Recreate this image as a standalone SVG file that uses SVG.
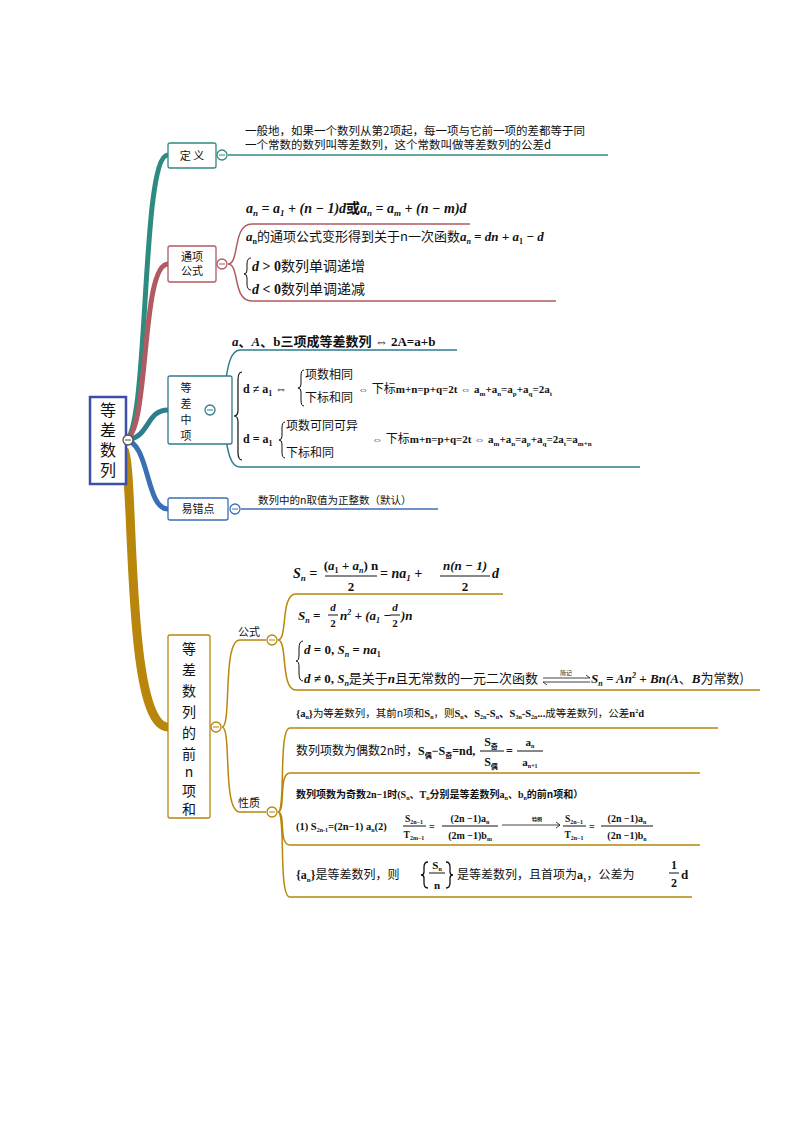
<svg xmlns="http://www.w3.org/2000/svg" width="794" height="1123" viewBox="0 0 794 1123">
<style>
.cn{font-family:"Noto Sans CJK SC","Noto Sans",sans-serif;fill:#111}
.m{font-family:"Liberation Serif","Noto Sans CJK SC",serif;font-weight:bold;fill:#111}
.i{font-style:italic}
.box{fill:#fff;stroke-width:1.3}
.c{fill:#fff;stroke-width:1.3}
.ln{fill:none;stroke-width:1.5}
</style>
<rect width="794" height="1123" fill="#fff"/>
<g id="connectors" fill="none">
<path d="M124 440 C150 440,140 155,168 155" stroke="#2e8b7f" stroke-width="5"/>
<path d="M124 440 C150 440,140 264,168 264" stroke="#b05a62" stroke-width="5"/>
<path d="M124 440 C150 440,145 410,168 410" stroke="#2e7d8c" stroke-width="5"/>
<path d="M124 440 C150 440,145 509,168 509" stroke="#3a6fb5" stroke-width="5"/>
<path d="M124 450 C135 470,125 727,168 727" stroke="#b8860b" stroke-width="9"/>
<path d="M228 155 H608" class="ln" stroke="#2e8b7f"/>
<path d="M228 264 C240 264,232 224,252 224 H470 M228 264 C240 264,232 301,252 301 H556" class="ln" stroke="#b05a62"/>
<path d="M216 410 C228 410,222 350,240 350 H457 M216 410 C228 410,222 467,240 467 H640" class="ln" stroke="#2e7d8c"/>
<path d="M241 509 H438" class="ln" stroke="#3a6fb5"/>
<path d="M222 727 C232 727,222 640,240 640 H266 M222 727 C232 727,222 812,240 812 H266" class="ln" stroke="#b8860b"/>
<path d="M278 640 C288 640,280 594,296 594 H503 M278 640 C288 640,280 690,296 690 H760" class="ln" stroke="#b8860b"/>
<path d="M278 812 C286 812,278 728,290 728 H718 M278 812 C286 812,278 773,290 773 H700 M278 812 C286 812,278 845,290 845 H700 M278 812 C286 812,278 897,290 897 H692" class="ln" stroke="#b8860b"/>
</g>
<g id="root">
<rect x="90" y="397" width="36" height="87" fill="#fff" stroke="#3b4fa8" stroke-width="2.5"/>
<text class="cn" font-size="16" text-anchor="middle"><tspan x="108" y="416">等</tspan><tspan x="108" y="436">差</tspan><tspan x="108" y="456">数</tspan><tspan x="108" y="476">列</tspan></text>
<circle cx="128" cy="440" r="5" class="c" stroke="#555"/><path d="M125 440h6" stroke="#555"/>
</g>
<g id="n-def">
<rect x="168" y="143" width="48" height="25" rx="2" class="box" stroke="#2e8b7f"/>
<text class="cn" x="192" y="160" font-size="11" text-anchor="middle">定 义</text>
<circle cx="222" cy="155" r="5" class="c" stroke="#2e8b7f"/><path d="M219 155h6" stroke="#2e8b7f"/>
<text class="cn" x="245" y="135" font-size="11.5">一般地，如果一个数列从第2项起，每一项与它前一项的差都等于同</text>
<text class="cn" x="245" y="149" font-size="11.5">一个常数的数列叫等差数列，这个常数叫做等差数列的公差d</text>
</g>
<g id="n-general">
<rect x="168" y="246" width="48" height="36" rx="2" class="box" stroke="#b05a62"/>
<text class="cn" x="192" y="261" font-size="11" text-anchor="middle">通项</text>
<text class="cn" x="192" y="275" font-size="11" text-anchor="middle">公式</text>
<circle cx="222" cy="264" r="5" class="c" stroke="#b05a62"/><path d="M219 264h6" stroke="#b05a62"/>
<text class="m i" x="246" y="213" font-size="14">a<tspan font-size="9" dy="3">n</tspan><tspan dy="-3"> = a</tspan><tspan font-size="9" dy="3">1</tspan><tspan dy="-3"> + (n − 1)d</tspan><tspan class="cn" font-style="normal">或</tspan>a<tspan font-size="9" dy="3">n</tspan><tspan dy="-3"> = a</tspan><tspan font-size="9" dy="3">m</tspan><tspan dy="-3"> + (n − m)d</tspan></text>
<text class="m" x="246" y="241" font-size="13"><tspan class="i">a</tspan><tspan font-size="8" dy="3">n</tspan><tspan class="cn" dy="-3" font-weight="normal">的通项公式变形得到关于n一次函数</tspan><tspan class="i">a</tspan><tspan font-size="8" dy="3" class="i">n</tspan><tspan dy="-3" class="i"> = dn + a</tspan><tspan font-size="8" dy="3">1</tspan><tspan dy="-3" class="i"> − d</tspan></text>
<path d="M251 258 q-4 0 -4 6 v6 q0 4 -3 4 q3 0 3 4 v6 q0 6 4 6" fill="none" stroke="#111" stroke-width="1"/>
<text class="m" x="252" y="271" font-size="14"><tspan class="i">d</tspan> &gt; 0<tspan class="cn" font-weight="normal">数列单调递增</tspan></text>
<text class="m" x="252" y="294" font-size="14"><tspan class="i">d</tspan> &lt; 0<tspan class="cn" font-weight="normal">数列单调递减</tspan></text>
</g>
<g id="n-mid">
<rect x="168" y="376" width="64" height="68" rx="2" class="box" stroke="#2e7d8c"/>
<text class="cn" x="186" y="392" font-size="11" text-anchor="middle">等</text>
<text class="cn" x="186" y="408" font-size="11" text-anchor="middle">差</text>
<text class="cn" x="186" y="424" font-size="11" text-anchor="middle">中</text>
<text class="cn" x="186" y="440" font-size="11" text-anchor="middle">项</text>
<circle cx="210" cy="410" r="5" class="c" stroke="#2e7d8c"/><path d="M207 410h6" stroke="#2e7d8c"/>
<text class="m" x="232" y="346" font-size="13"><tspan class="i">a</tspan>、<tspan class="i">A</tspan>、b<tspan class="cn">三项成等差数列</tspan> ⇔ 2A=a+b</text>
<path d="M242 372 q-4 0 -4 8 v30 q0 6 -4 6 q4 0 4 6 v30 q0 8 4 8" fill="none" stroke="#111" stroke-width="1.2"/>
<text class="m" x="243" y="393" font-size="12">d ≠ a<tspan font-size="8" dy="3">1</tspan><tspan dy="-3"> ⇔</tspan></text>
<path d="M304 370 q-3 0 -3 6 v8 q0 4 -3 4 q3 0 3 4 v8 q0 6 3 6" fill="none" stroke="#111" stroke-width="1"/>
<text class="cn" x="305" y="379" font-size="12">项数相同</text>
<text class="cn" x="305" y="402" font-size="12">下标和同</text>
<text class="m" x="358" y="393" font-size="11">⇔ <tspan class="cn" font-weight="normal" font-size="12">下标</tspan>m+n=p+q=2t ⇔ a<tspan font-size="7" dy="3">m</tspan><tspan dy="-3">+a</tspan><tspan font-size="7" dy="3">n</tspan><tspan dy="-3">=a</tspan><tspan font-size="7" dy="3">p</tspan><tspan dy="-3">+a</tspan><tspan font-size="7" dy="3">q</tspan><tspan dy="-3">=2a</tspan><tspan font-size="7" dy="3">t</tspan></text>
<text class="m" x="243" y="443" font-size="12">d = a<tspan font-size="8" dy="3">1</tspan></text>
<path d="M285 422 q-3 0 -3 6 v8 q0 4 -3 4 q3 0 3 4 v8 q0 6 3 6" fill="none" stroke="#111" stroke-width="1"/>
<text class="cn" x="286" y="430" font-size="12">项数可同可异</text>
<text class="cn" x="286" y="457" font-size="12">下标和同</text>
<text class="m" x="372" y="443" font-size="11">⇔ <tspan class="cn" font-weight="normal" font-size="12">下标</tspan>m+n=p+q=2t ⇔ a<tspan font-size="7" dy="3">m</tspan><tspan dy="-3">+a</tspan><tspan font-size="7" dy="3">n</tspan><tspan dy="-3">=a</tspan><tspan font-size="7" dy="3">p</tspan><tspan dy="-3">+a</tspan><tspan font-size="7" dy="3">q</tspan><tspan dy="-3">=2a</tspan><tspan font-size="7" dy="3">t</tspan><tspan dy="-3">=a</tspan><tspan font-size="7" dy="3">m+n</tspan></text>
</g>
<g id="n-err">
<rect x="168" y="498" width="60" height="22" rx="2" class="box" stroke="#3a6fb5"/>
<text class="cn" x="198" y="513" font-size="11" text-anchor="middle">易错点</text>
<circle cx="235" cy="509" r="5" class="c" stroke="#3a6fb5"/><path d="M232 509h6" stroke="#3a6fb5"/>
<text class="cn" x="258" y="504" font-size="10.5">数列中的n取值为正整数（默认）</text>
</g>
<g id="n-sum">
<rect x="168" y="635" width="42" height="183" rx="2" class="box" stroke="#b8860b" stroke-width="2"/>
<text class="cn" font-size="14" text-anchor="middle"><tspan x="189" y="654">等</tspan><tspan x="189" y="675">差</tspan><tspan x="189" y="696">数</tspan><tspan x="189" y="717">列</tspan><tspan x="189" y="738">的</tspan><tspan x="189" y="759">前</tspan><tspan x="189" y="777">n</tspan><tspan x="189" y="796">项</tspan><tspan x="189" y="814">和</tspan></text>
<circle cx="216" cy="727" r="5" class="c" stroke="#b8860b"/><path d="M213 727h6" stroke="#b8860b"/>
</g>
<g id="n-formula">
<text class="cn" x="238" y="636" font-size="11">公式</text>
<circle cx="272" cy="640" r="5" class="c" stroke="#b8860b"/><path d="M269 640h6" stroke="#b8860b"/>
<text class="m i" x="293" y="578" font-size="14">S<tspan font-size="9" dy="3">n</tspan><tspan dy="-3"> =</tspan></text>
<text class="m" x="351" y="570" font-size="13" text-anchor="middle">(<tspan class="i">a</tspan><tspan font-size="8" dy="3">1</tspan><tspan dy="-3" class="i"> + a</tspan><tspan font-size="8" dy="3" class="i">n</tspan><tspan dy="-3">) n</tspan></text>
<path d="M325 576 H377" stroke="#111"/>
<text class="m" x="351" y="591" font-size="13" text-anchor="middle">2</text>
<text class="m i" x="380" y="578" font-size="14">= na<tspan font-size="9" dy="3">1</tspan><tspan dy="-3"> +</tspan></text>
<text class="m i" x="465" y="570" font-size="13" text-anchor="middle">n(n − 1)</text>
<path d="M440 576 H490" stroke="#111"/>
<text class="m" x="465" y="591" font-size="13" text-anchor="middle">2</text>
<text class="m i" x="492" y="578" font-size="14">d</text>
<text class="m i" x="298" y="620" font-size="13">S<tspan font-size="8" dy="3">n</tspan><tspan dy="-3"> =</tspan></text>
<text class="m i" x="333" y="611" font-size="11" text-anchor="middle">d</text><path d="M328 615H338" stroke="#111"/><text class="m" x="333" y="627" font-size="11" text-anchor="middle">2</text>
<text class="m i" x="340" y="620" font-size="13">n<tspan font-size="8" dy="-5">2</tspan><tspan dy="5"> + (a</tspan><tspan font-size="8" dy="3">1</tspan><tspan dy="-3"> −</tspan></text>
<text class="m i" x="395" y="611" font-size="11" text-anchor="middle">d</text><path d="M390 615H400" stroke="#111"/><text class="m" x="395" y="627" font-size="11" text-anchor="middle">2</text>
<text class="m i" x="401" y="620" font-size="13">)n</text>
<path d="M303 641 q-4 0 -4 8 v6 q0 6 -3 6 q3 0 3 6 v6 q0 8 4 8" fill="none" stroke="#111" stroke-width="1"/>
<text class="m" x="304" y="654" font-size="13"><tspan class="i">d</tspan> = 0, <tspan class="i">S</tspan><tspan font-size="8" dy="3" class="i">n</tspan><tspan dy="-3" class="i"> = na</tspan><tspan font-size="8" dy="3">1</tspan></text>
<text class="m" x="304" y="683" font-size="13"><tspan class="i">d</tspan> ≠ 0, <tspan class="i">S</tspan><tspan font-size="8" dy="3" class="i">n</tspan><tspan dy="-3" class="cn" font-weight="normal">是关于</tspan><tspan class="i">n</tspan><tspan class="cn" font-weight="normal">且无常数的一元二次函数</tspan></text>
<text class="cn" x="560" y="675" font-size="6">简记</text>
<path d="M543 678 H590 l-4 -3 M543 682 H590 M543 682 l4 3" fill="none" stroke="#111" stroke-width="0.8"/>
<text class="m i" x="591" y="683" font-size="13">S<tspan font-size="8" dy="3">n</tspan><tspan dy="-3"> = An</tspan><tspan font-size="8" dy="-5">2</tspan><tspan dy="5"> + Bn(A</tspan><tspan font-style="normal" class="cn" font-weight="normal">、</tspan>B<tspan font-style="normal" class="cn" font-weight="normal">为常数)</tspan></text>
</g>
<g id="n-prop">
<text class="cn" x="238" y="807" font-size="11">性质</text>
<circle cx="272" cy="812" r="5" class="c" stroke="#b8860b"/><path d="M269 812h6" stroke="#b8860b"/>
<text class="m" x="296" y="717" font-size="10.5">{a<tspan font-size="6" dy="2">n</tspan><tspan dy="-2">}</tspan><tspan class="cn" font-weight="normal">为等差数列，其前n项和</tspan>S<tspan font-size="6" dy="2">n</tspan><tspan dy="-2" class="cn" font-weight="normal">，则</tspan>S<tspan font-size="6" dy="2">n</tspan><tspan dy="-2">、S</tspan><tspan font-size="6" dy="2">2n</tspan><tspan dy="-2">-S</tspan><tspan font-size="6" dy="2">n</tspan><tspan dy="-2">、S</tspan><tspan font-size="6" dy="2">3n</tspan><tspan dy="-2">-S</tspan><tspan font-size="6" dy="2">2n</tspan><tspan dy="-2">...</tspan><tspan class="cn" font-weight="normal">成等差数列，公差</tspan>n<tspan font-size="6" dy="-4">2</tspan><tspan dy="4">d</tspan></text>
<text class="m" x="296" y="755" font-size="12"><tspan class="cn" font-weight="normal">数列项数为偶数2n时，</tspan>S<tspan font-size="7" dy="3" class="cn">偶</tspan><tspan dy="-3">−S</tspan><tspan font-size="7" dy="3" class="cn">奇</tspan><tspan dy="-3">=nd,</tspan></text>
<text class="m" x="491" y="746" font-size="12" text-anchor="middle">S<tspan font-size="7" dy="3" class="cn">奇</tspan></text><path d="M480 751H504" stroke="#111"/><text class="m" x="491" y="766" font-size="12" text-anchor="middle">S<tspan font-size="7" dy="3" class="cn">偶</tspan></text>
<text class="m" x="506" y="755" font-size="12">=</text>
<text class="m" x="530" y="746" font-size="11" text-anchor="middle">a<tspan font-size="6" dy="2">n</tspan></text><path d="M517 751H543" stroke="#111"/><text class="m" x="530" y="766" font-size="11" text-anchor="middle">a<tspan font-size="6" dy="2">n+1</tspan></text>
<text class="m" x="296" y="798" font-size="10"><tspan class="cn" font-weight="bold">数列项数为奇数</tspan>2n−1<tspan class="cn">时</tspan>(S<tspan font-size="6" dy="2">n</tspan><tspan dy="-2" class="cn">、</tspan>T<tspan font-size="6" dy="2">n</tspan><tspan dy="-2" class="cn">分别是等差数列</tspan>a<tspan font-size="6" dy="2">n</tspan><tspan dy="-2" class="cn">、</tspan>b<tspan font-size="6" dy="2">n</tspan><tspan dy="-2" class="cn">的前n项和）</tspan></text>
<text class="m" x="296" y="830" font-size="10.5">(1) S<tspan font-size="6" dy="2">2n-1</tspan><tspan dy="-2">=(2n−1) a</tspan><tspan font-size="6" dy="2">n</tspan><tspan dy="-2">(2)</tspan></text>
<text class="m" x="414" y="822" font-size="9.5" text-anchor="middle">S<tspan font-size="6" dy="2">2n−1</tspan></text><path d="M403 826H426" stroke="#111"/><text class="m" x="414" y="838" font-size="9.5" text-anchor="middle">T<tspan font-size="6" dy="2">2m−1</tspan></text>
<text class="m" x="429" y="830" font-size="10">=</text>
<text class="m" x="470" y="822" font-size="10" text-anchor="middle">(2n −1)a<tspan font-size="6" dy="2">n</tspan></text><path d="M442 826H498" stroke="#111"/><text class="m" x="470" y="839" font-size="10" text-anchor="middle">(2m −1)b<tspan font-size="6" dy="2">m</tspan></text>
<text class="cn" x="532" y="821" font-size="5" font-weight="bold">特例</text>
<path d="M502 825 H560 l-4 -3 M560 825 l-4 3" fill="none" stroke="#111" stroke-width="0.8"/>
<text class="m" x="574" y="822" font-size="9.5" text-anchor="middle">S<tspan font-size="6" dy="2">2n−1</tspan></text><path d="M563 826H586" stroke="#111"/><text class="m" x="574" y="838" font-size="9.5" text-anchor="middle">T<tspan font-size="6" dy="2">2n−1</tspan></text>
<text class="m" x="589" y="830" font-size="10">=</text>
<text class="m" x="627" y="822" font-size="10" text-anchor="middle">(2n −1)a<tspan font-size="6" dy="2">n</tspan></text><path d="M601 826H653" stroke="#111"/><text class="m" x="627" y="839" font-size="10" text-anchor="middle">(2n −1)b<tspan font-size="6" dy="2">n</tspan></text>
<text class="m" x="296" y="879" font-size="12">{a<tspan font-size="7" dy="3">n</tspan><tspan dy="-3">}</tspan><tspan class="cn" font-weight="normal">是等差数列，则</tspan></text>
<path d="M428 862 q-4 0 -4 5 v5 q0 3 -3 3 q3 0 3 3 v5 q0 5 4 5" fill="none" stroke="#111" stroke-width="1.3"/>
<text class="m" x="437" y="869" font-size="11" text-anchor="middle">S<tspan font-size="6" dy="2">n</tspan></text><path d="M429 873H445" stroke="#111"/><text class="m" x="437" y="889" font-size="11" text-anchor="middle">n</text>
<path d="M446 862 q4 0 4 5 v5 q0 3 3 3 q-3 0 -3 3 v5 q0 5 -4 5" fill="none" stroke="#111" stroke-width="1.3"/>
<text class="m" x="457" y="879" font-size="12"><tspan class="cn" font-weight="normal">是等差数列，且首项为</tspan>a<tspan font-size="7" dy="3">1</tspan><tspan dy="-3" class="cn" font-weight="normal">，公差为</tspan></text>
<text class="m" x="674" y="869" font-size="12" text-anchor="middle">1</text><path d="M669 873H679" stroke="#111"/><text class="m" x="674" y="887" font-size="12" text-anchor="middle">2</text>
<text class="m" x="681" y="879" font-size="13">d</text>
</g>
</svg>
